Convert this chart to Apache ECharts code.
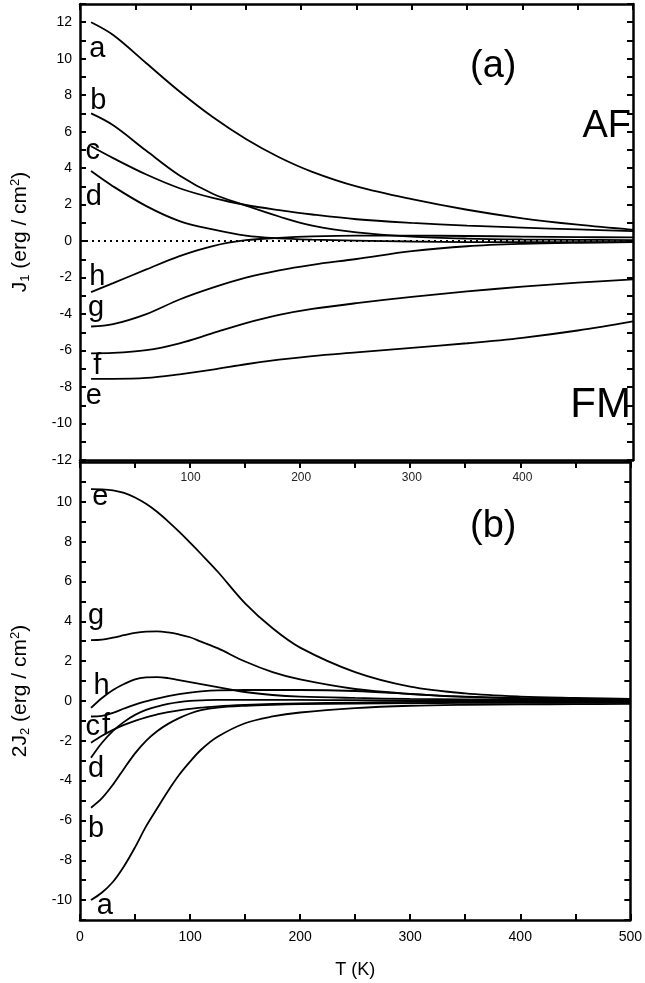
<!DOCTYPE html>
<html>
<head>
<meta charset="utf-8">
<script src="https://cdn.jsdelivr.net/npm/echarts@6/dist/echarts.min.js"></script>
<style>
html,body{margin:0;padding:0;background:#fff;}
#chart{width:645px;height:983px;}
</style>
</head>
<body>
<div id="chart"></div>
<script>
// ---------- Panel (a): J1 ----------
const tempA = [10, 30, 60, 90, 120, 150, 180, 210, 250, 300, 350, 400, 450, 500];
const j1_a = [12.0, 11.3, 9.75, 8.2, 6.8, 5.6, 4.6, 3.8, 3.0, 2.3, 1.72, 1.25, 0.9, 0.62];
const j1_b = [7.0, 6.35, 4.95, 3.6, 2.6, 1.95, 1.35, 0.85, 0.48, 0.25, 0.14, 0.09, 0.07, 0.06];
const j1_c = [5.2, 4.55, 3.65, 2.9, 2.37, 1.98, 1.7, 1.46, 1.2, 1.0, 0.85, 0.74, 0.64, 0.55];
const j1_d = [3.84, 3.0, 1.92, 1.1, 0.64, 0.3, 0.15, 0.08, 0.03, -0.02, -0.05, -0.06, -0.06, -0.06];
const j1_h = [-2.8, -2.3, -1.55, -0.82, -0.27, 0.05, 0.18, 0.26, 0.3, 0.3, 0.28, 0.25, 0.22, 0.2];
const j1_g = [-4.68, -4.55, -4.0, -3.2, -2.55, -2.0, -1.6, -1.3, -0.98, -0.55, -0.28, -0.15, -0.09, -0.06];
const j1_f = [-6.15, -6.13, -5.98, -5.6, -5.05, -4.5, -4.05, -3.72, -3.4, -3.06, -2.76, -2.5, -2.28, -2.1];
const j1_e = [-7.55, -7.55, -7.5, -7.3, -7.05, -6.75, -6.5, -6.3, -6.1, -5.85, -5.6, -5.3, -4.9, -4.4];
const zeroLineT = [0, 500];
const zeroLineV = [0, 0];
const labelsA_text = ['a', 'b', 'c', 'd', 'h', 'g', 'f', 'e'];
const labelsA_T = [16, 17, 12, 13, 16, 15, 16, 13];
const labelsA_V = [10.5, 7.65, 4.9, 2.4, -2.0, -3.7, -6.9, -8.5];

// ---------- Panel (b): 2J2 ----------
const tempB = [10, 20, 30, 40, 50, 60, 70, 80, 90, 100, 110, 125, 150, 175, 200, 250, 300, 350, 400, 450, 500];
const j2_e = [10.64, 10.63, 10.58, 10.45, 10.22, 9.9, 9.5, 9.02, 8.5, 7.95, 7.38, 6.5, 4.9, 3.65, 2.68, 1.45, 0.72, 0.38, 0.22, 0.15, 0.1];
const j2_g = [3.05, 3.08, 3.18, 3.3, 3.42, 3.48, 3.49, 3.44, 3.34, 3.2, 2.98, 2.65, 1.98, 1.45, 1.08, 0.6, 0.36, 0.22, 0.15, 0.12, 0.1];
const j2_h = [-0.35, 0.15, 0.55, 0.85, 1.08, 1.18, 1.2, 1.15, 1.05, 0.95, 0.85, 0.7, 0.45, 0.3, 0.22, 0.15, 0.1, 0.08, 0.06, 0.05, 0.05];
const j2_f = [-0.78, -0.75, -0.6, -0.38, -0.18, -0.02, 0.12, 0.24, 0.34, 0.42, 0.48, 0.53, 0.55, 0.55, 0.55, 0.5, 0.35, 0.2, 0.12, 0.08, 0.05];
const j2_c = [-2.1, -1.75, -1.45, -1.2, -1.0, -0.82, -0.68, -0.56, -0.47, -0.4, -0.34, -0.27, -0.2, -0.15, -0.12, -0.08, -0.05, -0.04, -0.03, -0.03, -0.03];
const j2_d = [-2.85, -2.1, -1.5, -1.05, -0.7, -0.45, -0.28, -0.15, -0.06, 0.0, 0.03, 0.05, 0.05, 0.05, 0.05, 0.04, 0.03, 0.03, 0.03, 0.03, 0.03];
const j2_b = [-5.36, -4.88, -4.2, -3.4, -2.63, -2.0, -1.52, -1.15, -0.86, -0.63, -0.46, -0.33, -0.24, -0.19, -0.16, -0.13, -0.11, -0.1, -0.1, -0.1, -0.1];
const j2_a = [-10.0, -9.62, -9.08, -8.3, -7.35, -6.3, -5.4, -4.52, -3.72, -3.05, -2.45, -1.8, -1.12, -0.78, -0.58, -0.36, -0.24, -0.19, -0.17, -0.16, -0.15];
const labelsB_text = ['e', 'g', 'h', 'c', 'f', 'd', 'b', 'a'];
const labelsB_T = [19, 15, 20, 12, 24, 15, 15, 23];
const labelsB_V = [10.24, 4.26, 0.74, -1.32, -1.27, -3.43, -6.44, -10.3];

// ---------- Tick labels ----------
const xTicksTop = [100, 200, 300, 400];
const xTicksBottom = [0, 100, 200, 300, 400, 500];
const yTicksA = [-12, -10, -8, -6, -4, -2, 0, 2, 4, 6, 8, 10, 12];
const yTicksB = [-10, -8, -6, -4, -2, 0, 2, 4, 6, 8, 10];

const FONT = 'Liberation Sans, Arial, Helvetica, sans-serif';
const zip = (xs, ys) => xs.map((x, i) => [x, ys[i]]);

function curve(data, xi, yi) {
  return {
    type: 'line', xAxisIndex: xi, yAxisIndex: yi,
    data: data, smooth: 0.35, showSymbol: false, symbol: 'none',
    lineStyle: { color: '#000', width: 1.8 }, silent: true, animation: false
  };
}
function letters(T, V, txt, xi, yi) {
  return {
    type: 'scatter', xAxisIndex: xi, yAxisIndex: yi, symbolSize: 1,
    itemStyle: { color: 'rgba(0,0,0,0)' }, silent: true, animation: false, z: 10,
    data: T.map((t, i) => [t, V[i], txt[i]]),
    label: { show: true, position: [0, 0], align: 'center', verticalAlign: 'middle',
      formatter: p => p.data[2], opacity: 1,
      fontSize: 29, color: '#000', textBorderWidth: 0, fontFamily: FONT }
  };
}

const axLine = { show: true, onZero: false, lineStyle: { color: '#000', width: 2.5 } };
const tickIn = { show: true, inside: true, length: 6, lineStyle: { color: '#000', width: 2 } };
const nameRich = {
  sub: { fontSize: 13, verticalAlign: 'bottom', padding: [10, 0, 0, 0], color: '#000', fontFamily: FONT },
  sup: { fontSize: 13, verticalAlign: 'top', padding: [0, 0, 10, 0], color: '#000', fontFamily: FONT }
};

const option = {
  backgroundColor: '#fff',
  animation: false,
  grid: [
    { left: 80, right: 12, top: 4, height: 456 },
    { left: 80, right: 12, top: 462, height: 458 }
  ],
  xAxis: [
    { gridIndex: 0, type: 'value', min: 0, max: 500, interval: 50, position: 'bottom',
      axisLine: axLine, axisTick: { show: false }, splitLine: { show: false },
      axisLabel: { margin: 12, fontSize: 12, color: '#222', fontFamily: FONT,
        formatter: v => xTicksTop.includes(v) ? String(v) : '' } },
    { gridIndex: 0, type: 'value', min: 0, max: 500, interval: 50, position: 'top',
      axisLine: axLine, axisTick: tickIn, splitLine: { show: false }, axisLabel: { show: false } },
    { gridIndex: 1, type: 'value', min: 0, max: 500, interval: 50, position: 'bottom',
      axisLine: axLine, axisTick: tickIn, splitLine: { show: false },
      axisLabel: { margin: 10, fontSize: 14, color: '#000', fontFamily: FONT,
        formatter: v => xTicksBottom.includes(v) ? String(v) : '' },
      name: 'T (K)', nameLocation: 'middle', nameGap: 41,
      nameTextStyle: { fontSize: 18, color: '#000', fontFamily: FONT } },
    { gridIndex: 1, type: 'value', min: 0, max: 500, interval: 50, position: 'top',
      axisLine: axLine, axisTick: tickIn, splitLine: { show: false }, axisLabel: { show: false } }
  ],
  yAxis: [
    { gridIndex: 0, type: 'value', min: -12, max: 13, interval: 1, position: 'left',
      axisLine: axLine, axisTick: tickIn, splitLine: { show: false },
      axisLabel: { margin: 8, fontSize: 14, color: '#000', fontFamily: FONT,
        formatter: v => yTicksA.includes(v) ? String(v) : '' },
      name: 'J{sub|1} (erg / cm{sup|2})', nameLocation: 'middle', nameGap: 48, nameRotate: 90,
      nameTextStyle: { fontSize: 21, color: '#000', fontFamily: FONT, rich: nameRich } },
    { gridIndex: 0, type: 'value', min: -12, max: 13, interval: 1, position: 'right',
      axisLine: axLine, axisTick: tickIn, splitLine: { show: false }, axisLabel: { show: false } },
    { gridIndex: 1, type: 'value', min: -11, max: 12, interval: 1, position: 'left',
      axisLine: axLine, axisTick: tickIn, splitLine: { show: false },
      axisLabel: { margin: 8, fontSize: 14, color: '#000', fontFamily: FONT,
        formatter: v => yTicksB.includes(v) ? String(v) : '' },
      name: '2J{sub|2} (erg / cm{sup|2})', nameLocation: 'middle', nameGap: 48, nameRotate: 90,
      nameTextStyle: { fontSize: 21, color: '#000', fontFamily: FONT, rich: nameRich } },
    { gridIndex: 1, type: 'value', min: -11, max: 12, interval: 1, position: 'right',
      axisLine: axLine, axisTick: tickIn, splitLine: { show: false }, axisLabel: { show: false } }
  ],
  graphic: [
    { type: 'text', left: 470, top: 48, style: { text: '(a)', font: '38px ' + FONT, fill: '#000' } },
    { type: 'text', right: 14, top: 108, style: { text: 'AF', font: '38px ' + FONT, fill: '#000' } },
    { type: 'text', right: 14, top: 384, style: { text: 'FM', font: '42px ' + FONT, fill: '#000' } },
    { type: 'text', left: 470, top: 508, style: { text: '(b)', font: '38px ' + FONT, fill: '#000' } }
  ],
  series: [
    { type: 'line', xAxisIndex: 0, yAxisIndex: 0, data: zip(zeroLineT, zeroLineV), showSymbol: false,
      symbol: 'none', silent: true, lineStyle: { color: '#000', width: 2, type: [2, 4] } },
    curve(zip(tempA, j1_a), 0, 0), curve(zip(tempA, j1_b), 0, 0), curve(zip(tempA, j1_c), 0, 0),
    curve(zip(tempA, j1_d), 0, 0), curve(zip(tempA, j1_h), 0, 0), curve(zip(tempA, j1_g), 0, 0),
    curve(zip(tempA, j1_f), 0, 0), curve(zip(tempA, j1_e), 0, 0),
    letters(labelsA_T, labelsA_V, labelsA_text, 0, 0),
    curve(zip(tempB, j2_e), 2, 2), curve(zip(tempB, j2_g), 2, 2), curve(zip(tempB, j2_h), 2, 2),
    curve(zip(tempB, j2_f), 2, 2), curve(zip(tempB, j2_c), 2, 2), curve(zip(tempB, j2_d), 2, 2),
    curve(zip(tempB, j2_b), 2, 2), curve(zip(tempB, j2_a), 2, 2),
    letters(labelsB_T, labelsB_V, labelsB_text, 2, 2)
  ]
};

const chart = echarts.init(document.getElementById('chart'), null, { renderer: 'canvas' });
chart.setOption(option);
</script>
</body>
</html>
